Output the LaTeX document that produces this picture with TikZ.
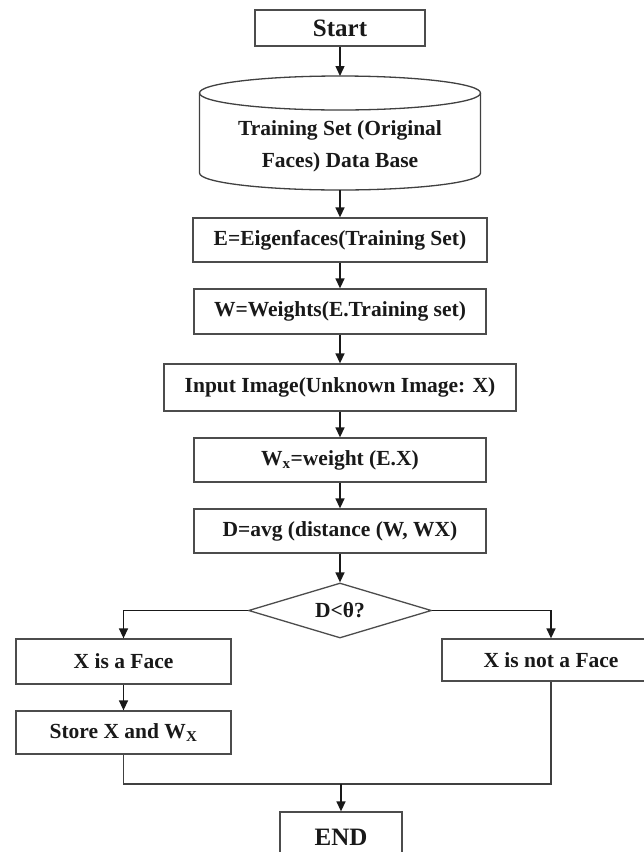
\documentclass[tikz,border=0pt]{standalone}
\usepackage{fontspec}
\setmainfont{Liberation Serif}
\usetikzlibrary{arrows.meta,shapes.geometric}
\begin{document}
\begin{tikzpicture}[x=1pt,y=-1pt]
\tikzset{
  box/.style={draw=black!70, line width=1.3pt, rectangle, inner sep=0pt, align=center,
    font=\bfseries\fontsize{21.5}{26}\selectfont, text=black!90},
  bigtxt/.style={font=\bfseries\fontsize{25}{30}\selectfont},
  arr/.style={draw=black!90, line width=1.4pt, -{Triangle[length=10pt,width=9pt]}},
  ln/.style={draw=black!75, line width=1.3pt, line join=miter}
}
\path[use as bounding box] (0,0) rectangle (644,852);
\clip (0,0) rectangle (644,852);
\fill[white] (0,0) rectangle (644,852);

\node[box, bigtxt, minimum width=170pt, minimum height=36pt] (start) at (340,28) {Start};

\coordinate (dbtop) at (340,76);
\coordinate (dbbot) at (340,190);
\draw[ln] (340,93) ellipse [x radius=140.5pt, y radius=17pt];
\draw[ln] (199.5,93) -- (199.5,173) arc[start angle=180,end angle=360,x radius=140.5pt,y radius=17pt] -- (480.5,93);
\node[box, draw=none, font=\bfseries\fontsize{21.5}{32}\selectfont] (db) at (340,146) {Training Set (Original\\Faces) Data Base};

\node[box, minimum width=294pt, minimum height=44pt] (e) at (340,240) {E=Eigenfaces(Training Set)};
\node[box, minimum width=292pt, minimum height=45pt] (w) at (340,311.5) {W=Weights(E.Training set)};
\node[box, minimum width=352pt, minimum height=47pt] (inp) at (340,387.5) {Input Image(Unknown Image: X)};
\node[box, minimum width=292pt, minimum height=44pt] (wx) at (340,460) {W\textsubscript{x}=weight (E.X)};
\node[box, minimum width=292pt, minimum height=44pt] (d) at (340,531) {D=avg (distance (W, WX)};
\node[draw=black!70, line width=1.3pt, diamond, minimum width=183pt, minimum height=55pt,
  inner sep=0pt, aspect=3.3, font=\bfseries\fontsize{21.5}{26}\selectfont, text=black!90] (dia) at (340,610.5) {D<θ?};
\node[box, minimum width=215pt, minimum height=45pt] (face) at (123.5,661.5) {X is a Face};
\node[box, minimum width=215pt, minimum height=43pt] (store) at (123.5,732.5) {Store X and W\textsubscript{X}};
\node[box, minimum width=218pt, minimum height=42pt] (nface) at (551,660) {X is not a Face};
\node[box, bigtxt, minimum width=122pt, minimum height=50pt] (end) at (341,837) {END};
\coordinate (merge) at (341,784);

\draw[arr] (start) -- (dbtop);
\draw[arr] (dbbot) -- (e);
\draw[arr] (e) -- (w);
\draw[arr] (w) -- (inp);
\draw[arr] (inp) -- (wx);
\draw[arr] (wx) -- (d);
\draw[arr] (d) -- (dia);
\draw[arr] (dia.west) -| (face.north);
\draw[arr] (dia.east) -| (nface.north);
\draw[arr] (face) -- (store);
\draw[ln] (store.south) |- (merge) -| (nface.south);
\draw[arr] (merge) -- (end);
\end{tikzpicture}
\end{document}
